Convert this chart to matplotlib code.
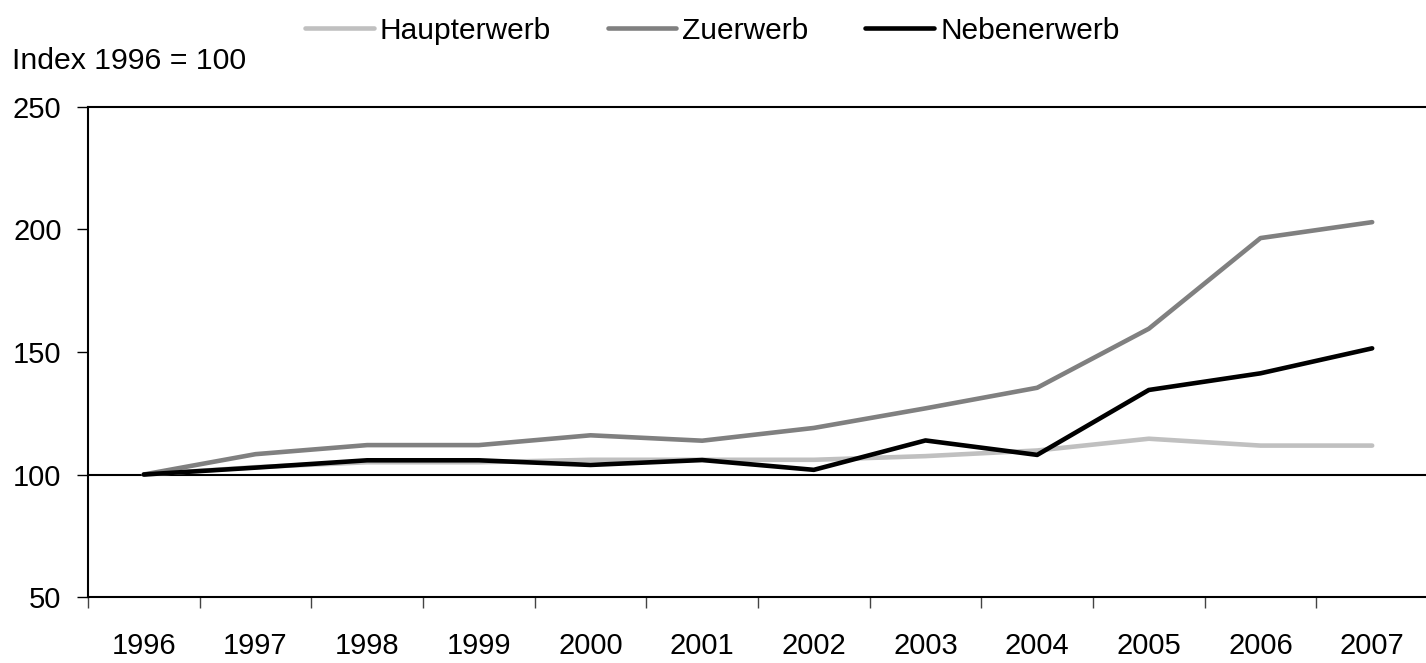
import matplotlib
matplotlib.use("Agg")
from matplotlib import pyplot as plt

# Data (Index 1996 = 100)
years = ["1996", "1997", "1998", "1999", "2000", "2001",
         "2002", "2003", "2004", "2005", "2006", "2007"]
haupterwerb = [100, 103, 105, 105, 106, 106, 106, 107.5, 109.8, 114.6, 111.8, 111.8]
zuerwerb = [100, 108.3, 112, 112, 116, 113.8, 119, 127, 135.4, 159.5, 196.5, 203]
nebenerwerb = [100, 102.8, 105.8, 105.8, 103.9, 105.9, 101.9, 113.9, 108, 134.5, 141.3, 151.5]

plt.rcParams['font.family'] = ['Liberation Sans', 'DejaVu Sans']
FS = 21

fig = plt.figure(figsize=(14.26, 6.63), dpi=100)
# plot area runs a little past the right edge of the picture (right border is cut off)
ax = fig.add_axes([88 / 1426, 66 / 663, 1340 / 1426, 490 / 663])

x = list(range(len(years)))
ax.plot(x, haupterwerb, color='#c0c0c0', lw=3.3, label='Haupterwerb', solid_capstyle='round')
ax.plot(x, zuerwerb, color='#808080', lw=3.3, label='Zuerwerb', solid_capstyle='round')
ax.plot(x, nebenerwerb, color='black', lw=3.3, label='Nebenerwerb', solid_capstyle='round')

# Category axis crosses at 100
ax.axhline(100, color='black', lw=1.5, zorder=1)

ax.set_xlim(-0.5, len(years) - 0.5)
ax.set_ylim(50, 250)
ax.set_yticks([50, 100, 150, 200, 250])

# tick marks between categories, labels centered
ax.set_xticks([i - 0.5 for i in range(len(years) + 1)])
ax.set_xticklabels([])
ax.set_xticks(x, minor=True)
ax.set_xticklabels(years, minor=True)
ax.tick_params(axis='x', which='major', length=8, width=1, color='#444444', direction='out')
ax.tick_params(axis='x', which='minor', length=0, pad=25, labelsize=FS)
ax.tick_params(axis='y', length=8, width=1, direction='out', labelsize=FS, pad=11)

for s in ax.spines.values():
    s.set_linewidth(1.5)

fig.text(0.0084, 0.908, "Index 1996 = 100", fontsize=21.8, va='center', ha='left')

fig.legend(loc='upper center', bbox_to_anchor=(0.4995, 1.015), ncol=3, frameon=False,
           fontsize=21.5, handlelength=2.3, handletextpad=0.2, columnspacing=1.9)

fig.savefig("out.png", dpi=100)
